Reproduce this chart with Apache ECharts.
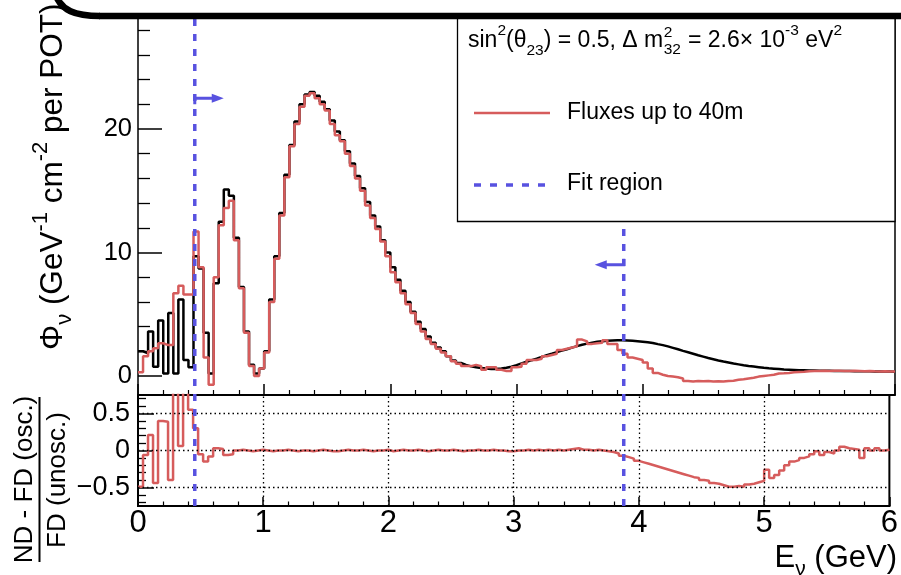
<!DOCTYPE html>
<html><head><meta charset="utf-8">
<script src="https://cdn.jsdelivr.net/npm/echarts@6/dist/echarts.min.js"></script>
<style>html,body{margin:0;padding:0;background:#fff}#c{width:901px;height:575px}</style>
</head><body><div id="c"></div>
<script>
// ---------------- data ----------------
const binWidth = 0.04;               // GeV, histogram bin width (bins from 0 to 6 GeV)
// FD oscillated flux (black histogram)
const fdOsc = [
 2.0, 1.84, 3.6, 0.75, 4.5, 0.2, 5.1, 0.2, 6.2, 1.3,
 0.7, 9.7, 8.7, 3.5, 0.2, 7.5, 12.5, 15.1, 14.6, 11.2,
 7.2, 3.6, 0.9, 0.2, 0.6, 2.0, 6.2, 9.7, 13.2, 16.3,
 18.7, 20.6, 22.0, 22.8, 23.0, 22.7, 22.2, 21.6, 20.7, 19.8,
 19.1, 18.2, 17.2, 16.2, 15.2, 14.1, 13.0, 12.1, 11.0, 10.0,
 8.8, 7.8, 6.9, 6.0, 5.2, 4.4, 3.8, 3.2, 2.7, 2.3,
 2.0, 1.6, 1.25, 1.05, 0.9, 0.78, 0.7, 0.64, 0.6, 0.57,
 0.57, 0.6, 0.66, 0.75, 0.88, 1.02, 1.15, 1.28, 1.4, 1.55,
 1.68, 1.8, 1.93, 2.05, 2.17, 2.3, 2.42, 2.53, 2.62, 2.7,
 2.77, 2.82, 2.86, 2.88, 2.89, 2.89, 2.87, 2.85, 2.82, 2.78,
 2.73, 2.67, 2.58, 2.5, 2.4, 2.28, 2.16, 2.03, 1.92, 1.8,
 1.68, 1.57, 1.46, 1.36, 1.26, 1.17, 1.09, 1.01, 0.94, 0.87,
 0.81, 0.76, 0.71, 0.66, 0.62, 0.59, 0.56, 0.53, 0.51, 0.49,
 0.47, 0.46, 0.45, 0.44, 0.43, 0.42, 0.42, 0.41, 0.41, 0.4,
 0.4, 0.39, 0.39, 0.38, 0.38, 0.37, 0.37, 0.36, 0.36, 0.35
];
// ND fluxes up to 40m (red histogram)
const ndFit = [
 0.3, 1.6, 2.0, 2.25, 2.65, 2.5, 2.5, 6.7, 7.3, 6.6,
 6.6, 11.7, 8.8, 1.5, -0.7, 8.0, 12.2, 13.6, 14.2, 11.0,
 7.1, 3.5, 0.8, 0.0, 0.6, 1.9, 6.0, 9.5, 13.0, 16.1,
 18.6, 20.4, 21.8, 22.7, 22.9, 22.5, 22.0, 21.5, 20.4, 19.5,
 19.0, 18.0, 17.0, 16.0, 15.0, 13.8, 12.8, 11.9, 10.9, 9.7,
 8.4, 7.6, 6.7, 5.8, 5.1, 4.2, 3.6, 3.0, 2.6, 2.2,
 1.9, 1.6, 1.2, 1.0, 0.8, 0.8, 0.9, 0.8, 0.5, 0.7,
 0.7, 0.5, 0.4, 0.4, 0.7, 0.75, 1.0, 1.3, 1.3, 1.4,
 1.6, 1.7, 1.8, 2.1, 2.2, 2.3, 2.4, 2.95, 2.8, 2.6,
 2.65, 2.7, 2.9, 2.6, 2.6, 2.1, 1.8, 1.5, 1.4, 1.3,
 1.1, 0.6, 0.25, 0.1, 0.0, -0.05, -0.1, -0.2, -0.4, -0.45,
 -0.4, -0.42, -0.4, -0.45, -0.43, -0.45, -0.4, -0.38, -0.3, -0.27,
 -0.2, -0.15, -0.05, 0.0, 0.05, 0.1, 0.2, 0.22, 0.25, 0.3,
 0.33, 0.35, 0.38, 0.4, 0.4, 0.42, 0.4, 0.43, 0.42, 0.4,
 0.4, 0.42, 0.4, 0.38, 0.4, 0.38, 0.37, 0.38, 0.36, 0.37
];
// (ND - FD(osc.)) / FD(unosc.)
const ratio = [
 -0.49, -0.06, 0.21, -0.44, 0.4, 0.39, -0.4, 0.9, 0.06, 0.9,
 0.55, 0.3, -0.05, -0.15, -0.08, 0.03, 0.02, -0.06, -0.05, 0.0,
 0.01, 0.0, -0.01, 0.0, 0.01, 0.0, -0.01, 0.0, 0.0, 0.01,
 0.0, -0.01, 0.0, 0.0, -0.01, 0.0, 0.01, 0.0, -0.01, -0.01,
 0.0, 0.01, 0.0, 0.0, 0.01, 0.0, -0.01, 0.0, 0.0, 0.01,
 -0.01, 0.0, 0.01, 0.0, 0.0, 0.01, 0.0, -0.01, 0.0, 0.01,
 0.0, 0.0, 0.01, 0.0, -0.01, 0.0, 0.0, 0.01, 0.0, 0.0,
 0.01, 0.0, 0.0, -0.01, -0.01, 0.0, 0.0, 0.01, 0.0, 0.01,
 0.0, 0.01, 0.0, 0.01, 0.0, 0.01, 0.02, 0.03, 0.01, 0.01,
 0.0, 0.01, 0.0, -0.01, -0.02, -0.04, -0.07, -0.09, -0.11, -0.14,
 -0.16, -0.18, -0.2, -0.22, -0.24, -0.26, -0.28, -0.3, -0.32, -0.34,
 -0.36, -0.37, -0.4, -0.41, -0.44, -0.45, -0.47, -0.49, -0.49, -0.48,
 -0.49, -0.46, -0.45, -0.43, -0.41, -0.26, -0.37, -0.33, -0.27, -0.2,
 -0.15, -0.13, -0.1, -0.08, -0.05, -0.01, -0.06, -0.02, -0.04, 0.0,
 0.05, 0.03, 0.02, 0.01, -0.1, 0.03, 0.0, 0.03, 0.0, 0.01
];
const fitRegion = [0.45, 3.85];        // GeV
const xRange = [0, 6];
const topYRange = [-1.54, 28.91];
const ratioRange = [-0.75, 0.75];
const topYTicks = [0, 10, 20];
const topYMinor = [2, 4, 6, 8, 12, 14, 16, 18, 22, 24, 26, 28];
const ratioTicks = [-0.5, 0, 0.5];
const ratioMinor = [-0.7, -0.6, -0.4, -0.3, -0.2, -0.1, 0.1, 0.2, 0.3, 0.4, 0.6, 0.7];
const ratioGridY = [-0.5, 0, 0.5];
const ratioGridX = [1, 2, 3, 4, 5];
const arrowLevels = [22.5, 9.0];        // flux units, where the fit-region arrows sit

// ---------------- chart ----------------
const FONT = '"Liberation Sans", Arial, Helvetica, sans-serif';
const RED = '#d65c5c', BLUE = '#5852e0', BLACK = '#000';

function steps(vals) {
  const pts = [];
  vals.forEach((v, i) => {
    const a = +(i * binWidth).toFixed(4), b = +((i + 1) * binWidth).toFixed(4);
    pts.push([a, v], [b, v]);
  });
  return pts;
}

const chart = echarts.init(document.getElementById('c'), null, { renderer: 'canvas' });

const tickLine = w => ({ color: BLACK, width: w });
const option = {
  animation: false,
  backgroundColor: '#fff',
  grid: [
    { left: 138, top: 19, width: 757, height: 376, show: false },
    { left: 138, top: 395, width: 757, height: 111, show: true, borderColor: BLACK, borderWidth: 2, backgroundColor: 'transparent' }
  ],
  xAxis: [
    { gridIndex: 0, type: 'value', min: xRange[0], max: xRange[1], interval: 1,
      axisLine: { show: true, onZero: false, lineStyle: tickLine(2) },
      axisTick: { show: true, inside: true, length: 11, lineStyle: tickLine(1.5) },
      minorTick: { show: true, splitNumber: 5, length: 5, lineStyle: tickLine(1.2) },
      axisLabel: { show: false }, splitLine: { show: false } },
    { gridIndex: 1, type: 'value', min: xRange[0], max: xRange[1], interval: 1,
      axisLine: { show: true, onZero: false, lineStyle: tickLine(2) },
      axisTick: { show: true, inside: true, length: 9, lineStyle: tickLine(1.5) },
      minorTick: { show: true, splitNumber: 5, length: 4.5, lineStyle: tickLine(1.2) },
      axisLabel: { show: true, fontSize: 31, color: BLACK, fontFamily: FONT, margin: 2 },
      splitLine: { show: false } }
  ],
  yAxis: [
    { gridIndex: 0, type: 'value', min: topYRange[0], max: topYRange[1], position: 'left',
      axisLine: { show: true, onZero: false, lineStyle: tickLine(1.5) },
      axisTick: { show: true, inside: true, length: 24, customValues: topYTicks, lineStyle: tickLine(1.5) },
      axisLabel: { show: true, customValues: topYTicks, fontSize: 25.5, color: BLACK, fontFamily: FONT, margin: 6 },
      splitLine: { show: false } },
    { gridIndex: 0, type: 'value', min: topYRange[0], max: topYRange[1], position: 'left', offset: 0,
      axisLine: { show: false },
      axisTick: { show: true, inside: true, length: 12, customValues: topYMinor, lineStyle: tickLine(1.3) },
      axisLabel: { show: false }, splitLine: { show: false } },
    { gridIndex: 0, type: 'value', min: topYRange[0], max: topYRange[1], position: 'right',
      axisLine: { show: true, onZero: false, lineStyle: tickLine(1.5) },
      axisTick: { show: false }, axisLabel: { show: false }, splitLine: { show: false } },
    { gridIndex: 1, type: 'value', min: ratioRange[0], max: ratioRange[1], position: 'left',
      axisLine: { show: true, onZero: false, lineStyle: tickLine(2) },
      axisTick: { show: true, inside: true, length: 16, customValues: ratioTicks, lineStyle: tickLine(1.5) },
      axisLabel: { show: true, customValues: ratioTicks, fontSize: 27, color: BLACK, fontFamily: FONT, margin: 8,
        formatter: v => (v < 0 ? '\u2212' + Math.abs(v) : String(v)) },
      splitLine: { show: false } },
    { gridIndex: 1, type: 'value', min: ratioRange[0], max: ratioRange[1], position: 'left', offset: 0,
      axisLine: { show: false },
      axisTick: { show: true, inside: true, length: 8, customValues: ratioMinor, lineStyle: tickLine(1.3) },
      axisLabel: { show: false }, splitLine: { show: false } }
  ],
  series: [
    { name: 'FD osc', type: 'line', xAxisIndex: 0, yAxisIndex: 0, data: steps(fdOsc),
      symbol: 'none', lineStyle: { color: BLACK, width: 2.5 }, z: 2, clip: true },
    { name: 'Fluxes up to 40m', type: 'line', xAxisIndex: 0, yAxisIndex: 0, data: steps(ndFit),
      symbol: 'none', lineStyle: { color: RED, width: 2.5 }, z: 3, clip: true },
    { name: 'grid', type: 'line', xAxisIndex: 1, yAxisIndex: 3, data: [[0, 0]], symbol: 'none',
      lineStyle: { opacity: 0 }, z: 1, silent: true,
      markLine: { silent: true, symbol: 'none', label: { show: false }, animation: false,
        lineStyle: { color: BLACK, type: [1.5, 3], width: 1.3 },
        data: ratioGridY.map(v => ({ yAxis: v })).concat(ratioGridX.map(v => ({ xAxis: v }))) } },
    { name: 'ratio', type: 'line', xAxisIndex: 1, yAxisIndex: 3, data: steps(ratio),
      symbol: 'none', lineStyle: { color: RED, width: 2.5 }, z: 3, clip: true }
  ]
};
chart.setOption(option);

// ---------------- overlays ----------------
const cv = document.createElement('canvas').getContext('2d');
function tw(str, size) { cv.font = size + 'px "Liberation Sans"'; return cv.measureText(str).width; }

const px = v => chart.convertToPixel({ xAxisIndex: 0 }, v);
const pyTop = v => chart.convertToPixel({ yAxisIndex: 0 }, v);
const pyRat = v => chart.convertToPixel({ yAxisIndex: 3 }, v);
const yTop = pyTop(topYRange[1]), yBot = pyRat(ratioRange[0]);

const MAIN = 23, SMALL = 15.5;
const legendRich = {
  m: { fontSize: MAIN, fontFamily: FONT, fill: BLACK, lineHeight: 36 },
  sup: { fontSize: SMALL, fontFamily: FONT, fill: BLACK, lineHeight: 20, verticalAlign: 'top' },
  sub: { fontSize: SMALL, fontFamily: FONT, fill: BLACK, lineHeight: 18, verticalAlign: 'bottom' }
};
const lx0 = 468, ly0 = 41;
const wA = tw('sin', MAIN) + tw('2', SMALL) + tw('(\u03b8', MAIN) + tw('23', SMALL) + tw(') = 0.5, \u0394 m', MAIN);
const xStack = lx0 + wA + 0.5;
const xC = xStack + tw('32', SMALL) + 0.5;

const titleRich = {
  m: { fontSize: 31.5, fontFamily: FONT, fill: BLACK, lineHeight: 46 },
  sup: { fontSize: 22, fontFamily: FONT, fill: BLACK, lineHeight: 25, verticalAlign: 'top' },
  sub: { fontSize: 22, fontFamily: FONT, fill: BLACK, lineHeight: 25, verticalAlign: 'bottom' }
};

const graphics = [];
fitRegion.forEach(e => {
  const x = px(e);
  graphics.push({ type: 'line', z: 50, shape: { x1: x, y1: yTop, x2: x, y2: yBot },
    style: { stroke: BLUE, lineWidth: 3.5, lineDash: [7, 8] } });
});
// arrows
(function () {
  const xL = px(fitRegion[0]), yA = pyTop(arrowLevels[0]);
  graphics.push({ type: 'polyline', z: 51, shape: { points: [[xL, yA + 6], [xL, yA], [xL + 20, yA]] },
    style: { stroke: BLUE, lineWidth: 3, fill: null } });
  graphics.push({ type: 'polygon', z: 51, shape: { points: [[xL + 17, yA - 4.5], [xL + 29, yA], [xL + 17, yA + 4.5]] },
    style: { fill: BLUE } });
  const xR = px(fitRegion[1]), yB = pyTop(arrowLevels[1]);
  graphics.push({ type: 'polyline', z: 51, shape: { points: [[xR, yB - 6], [xR, yB], [xR - 20, yB]] },
    style: { stroke: BLUE, lineWidth: 3, fill: null } });
  graphics.push({ type: 'polygon', z: 51, shape: { points: [[xR - 17, yB - 4.5], [xR - 29, yB], [xR - 17, yB + 4.5]] },
    style: { fill: BLUE } });
})();
// legend box
graphics.push({ type: 'rect', z: 60, shape: { x: 457.5, y: 18, width: 437.5, height: 203.5 },
  style: { fill: '#fff', stroke: BLACK, lineWidth: 1.3 } });
graphics.push({ type: 'text', z: 61, x: lx0, y: ly0, style: {
  text: '{m|sin}{sup|2}{m|(\u03b8}{sub|23}{m|) = 0.5, \u0394 m}', rich: legendRich, align: 'left', verticalAlign: 'middle' } });
graphics.push({ type: 'text', z: 61, x: xStack, y: ly0 - 8, style: {
  text: '2', fontSize: SMALL, fontFamily: FONT, fill: BLACK, align: 'left', verticalAlign: 'middle' } });
graphics.push({ type: 'text', z: 61, x: xStack, y: ly0 + 9, style: {
  text: '32', fontSize: SMALL, fontFamily: FONT, fill: BLACK, align: 'left', verticalAlign: 'middle' } });
graphics.push({ type: 'text', z: 61, x: xC, y: ly0, style: {
  text: '{m| = 2.6\u00d7 10}{sup|-3}{m| eV}{sup|2}', rich: legendRich, align: 'left', verticalAlign: 'middle' } });
graphics.push({ type: 'line', z: 61, shape: { x1: 474, y1: 113, x2: 550, y2: 113 }, style: { stroke: RED, lineWidth: 2.5 } });
graphics.push({ type: 'text', z: 61, x: 567, y: 112.5, style: {
  text: 'Fluxes up to 40m', fontSize: MAIN, fontFamily: FONT, fill: BLACK, align: 'left', verticalAlign: 'middle' } });
graphics.push({ type: 'line', z: 61, shape: { x1: 474, y1: 185, x2: 548, y2: 185 },
  style: { stroke: BLUE, lineWidth: 3.5, lineDash: [7, 9] } });
graphics.push({ type: 'text', z: 61, x: 567, y: 184, style: {
  text: 'Fit region', fontSize: MAIN, fontFamily: FONT, fill: BLACK, align: 'left', verticalAlign: 'middle' } });
// axis titles
graphics.push({ type: 'text', z: 40, x: 53, y: 350, rotation: Math.PI / 2, style: {
  text: '{m|\u03a6}{sub|\u03bd}{m| (GeV}{sup|-1}{m| cm}{sup|-2}{m| per POT)}', rich: titleRich,
  align: 'left', verticalAlign: 'middle' } });
graphics.push({ type: 'text', z: 40, x: 24.5, y: 479.5, rotation: Math.PI / 2, style: {
  text: 'ND - FD (osc.)', fontSize: 26, fontFamily: FONT, fill: BLACK, align: 'center', verticalAlign: 'middle' } });
graphics.push({ type: 'line', z: 40, shape: { x1: 39.5, y1: 397, x2: 39.5, y2: 562 }, style: { stroke: BLACK, lineWidth: 2 } });
graphics.push({ type: 'text', z: 40, x: 57.5, y: 480, rotation: Math.PI / 2, style: {
  text: 'FD (unosc.)', fontSize: 26, fontFamily: FONT, fill: BLACK, align: 'center', verticalAlign: 'middle' } });
graphics.push({ type: 'text', z: 40, x: 897, y: 558, style: {
  text: '{m|E}{sub|\u03bd}{m| (GeV)}', rich: {
    m: { fontSize: 31, fontFamily: FONT, fill: BLACK, lineHeight: 44 },
    sub: { fontSize: 21, fontFamily: FONT, fill: BLACK, lineHeight: 24, verticalAlign: 'bottom' } },
  align: 'right', verticalAlign: 'middle' } });
// top frame band (rounded corner + straight edge)
graphics.push({ type: 'bezierCurve', z: 100,
  shape: { x1: 56, y1: -4, cpx1: 62, cpy1: 10, cpx2: 74, cpy2: 16, x2: 100, y2: 16 },
  style: { stroke: BLACK, lineWidth: 6.5, fill: null } });
graphics.push({ type: 'line', z: 100, shape: { x1: 99, y1: 16, x2: 910, y2: 16 },
  style: { stroke: BLACK, lineWidth: 6.5 } });

chart.setOption({ graphic: { elements: graphics } });
</script>
</body></html>
